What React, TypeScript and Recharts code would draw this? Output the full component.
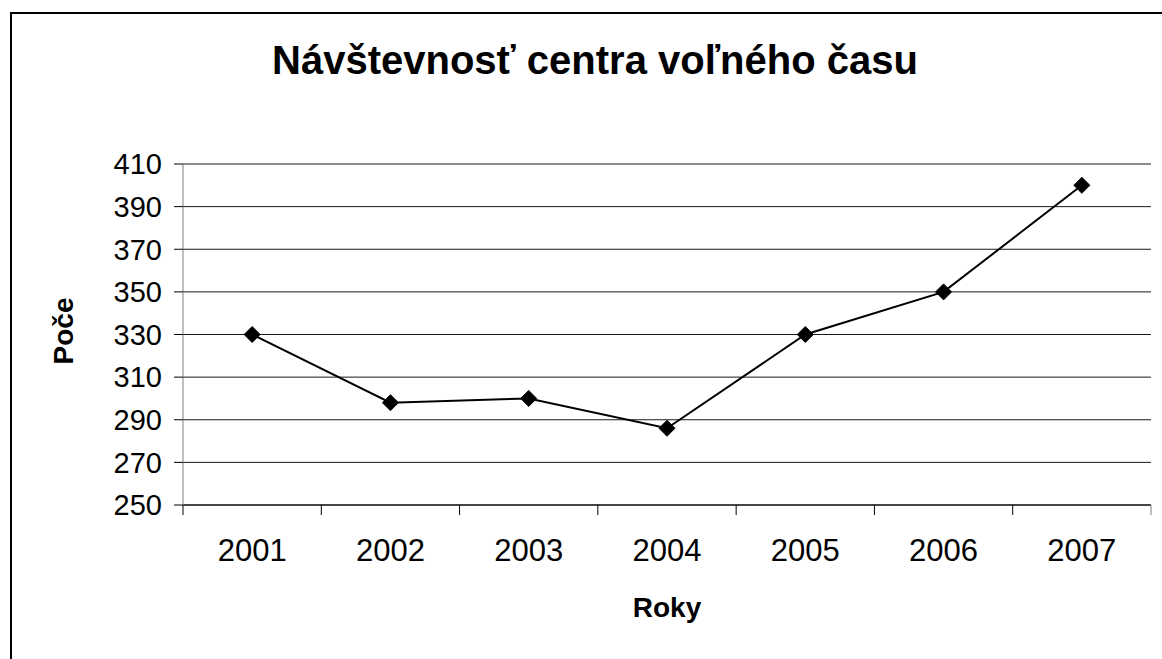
import { LineChart, Line, XAxis, YAxis, CartesianGrid } from 'recharts';

const years = ['2001', '2002', '2003', '2004', '2005', '2006', '2007'];
const visitors = [330, 298, 300, 286, 330, 350, 400];
const yTicks = [250, 270, 290, 310, 330, 350, 370, 390, 410];

const chartData = years.map((year, i) => ({ year, value: visitors[i] }));

const W = 1162;
const H = 659;
const MARGIN = { top: 164, right: 11, bottom: 0, left: 0 };
const Y_AXIS_W = 183;
const X_AXIS_H = 154;
const BAND = (W - MARGIN.left - MARGIN.right - Y_AXIS_W) / years.length;
const FONT = '"Liberation Sans", Arial, sans-serif';

function YearTick(props: any) {
  const { x, y, payload, index } = props;
  const left = x - BAND / 2;
  return (
    <g>
      <line x1={left} y1={y} x2={left} y2={y + 10} stroke="#000" strokeWidth={1} />
      {index === years.length - 1 && (
        <line x1={x + BAND / 2} y1={y} x2={x + BAND / 2} y2={y + 10} stroke="#808080" strokeWidth={1} />
      )}
      <text x={x} y={y + 34} dy="0.71em" textAnchor="middle" fontSize={31} fontFamily={FONT} fill="#000">
        {payload.value}
      </text>
    </g>
  );
}

function Diamond(props: any) {
  const { cx, cy } = props;
  if (cx == null || cy == null) return null;
  const s = 8;
  return (
    <polygon
      points={`${cx},${cy - s} ${cx + s},${cy} ${cx},${cy + s} ${cx - s},${cy}`}
      fill="#000"
      stroke="#000"
    />
  );
}

export default function App() {
  return (
    <div style={{ position: 'absolute', left: 0, top: 0, width: W, height: H, overflow: 'hidden', background: '#fff' }}>
      <div
        style={{
          position: 'absolute',
          left: 10,
          top: 12,
          width: W + 20,
          height: H + 20,
          border: '2px solid #000',
        }}
      />
      <div style={{ position: 'absolute', left: 0, top: 0 }}>
        <LineChart width={W} height={H} data={chartData} margin={MARGIN}>
          <CartesianGrid horizontal vertical={false} stroke="#000" strokeOpacity={0.9} />
          <XAxis
            dataKey="year"
            scale="band"
            height={X_AXIS_H}
            stroke="#000"
            tickLine={false}
            tickSize={0}
            tickMargin={0}
            tick={<YearTick />}
            interval={0}
          />
          <YAxis
            domain={[250, 410]}
            ticks={yTicks}
            width={Y_AXIS_W}
            axisLine={{ stroke: '#808080' }}
            tickLine={{ stroke: '#000' }}
            tickSize={9}
            tickMargin={12}
            tick={{ fontSize: 29, fontFamily: FONT, fill: '#000' }}
            allowDataOverflow
          />
          <Line
            type="linear"
            dataKey="value"
            stroke="#000"
            strokeWidth={2}
            dot={<Diamond />}
            activeDot={false}
            isAnimationActive={false}
          />
        </LineChart>
      </div>
      <svg width={W} height={H} style={{ position: 'absolute', left: 0, top: 0, pointerEvents: 'none' }}>
        <text x={595} y={74} textAnchor="middle" fontSize={40} fontWeight="bold" fontFamily={FONT} fill="#000">
          Návštevnosť centra voľného času
        </text>
        <text x={667} y={617} textAnchor="middle" fontSize={28} fontWeight="bold" fontFamily={FONT} fill="#000">
          Roky
        </text>
        <text
          x={0}
          y={0}
          transform="translate(73,331) rotate(-90)"
          textAnchor="middle"
          fontSize={28}
          fontWeight="bold"
          fontFamily={FONT}
          fill="#000"
        >
          Poče
        </text>
      </svg>
    </div>
  );
}
